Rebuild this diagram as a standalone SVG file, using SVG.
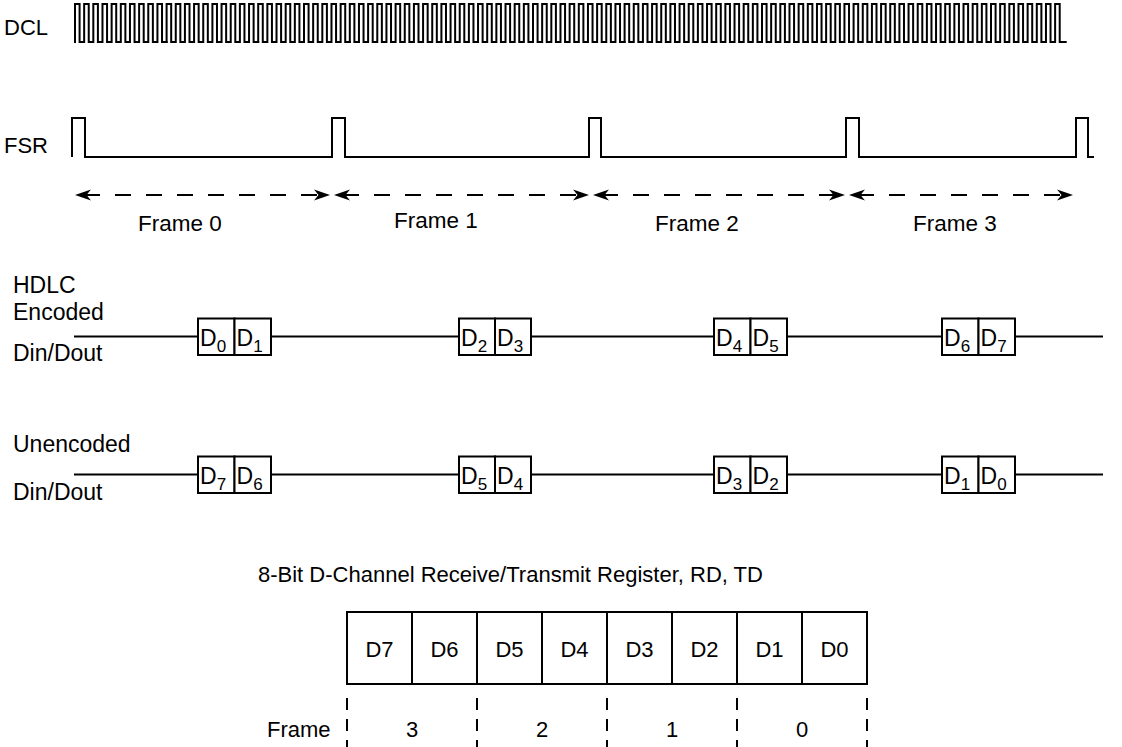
<svg xmlns="http://www.w3.org/2000/svg" xmlns:xlink="http://www.w3.org/1999/xlink" width="1122" height="747" viewBox="0 0 1122 747">
<style>
  text { font-family: "Liberation Sans", Arial, Helvetica, sans-serif; font-size: 22px; fill: #000; }
  .lbl { font-size: 23px; }
  .fr { font-size: 22.5px; }
  .sig { fill: none; stroke: #000; stroke-width: 2; stroke-linejoin: miter; }
  .clk { fill: none; stroke: #000; stroke-width: 2; stroke-linejoin: miter; stroke-linecap: square; }
  .dash { fill: none; stroke: #000; stroke-width: 2; stroke-dasharray: 16 15; stroke-dashoffset: -9; marker-start: url(#ah); marker-end: url(#ah); }
  .box { fill: #fff; stroke: #000; stroke-width: 2; }
  .bx { font-size: 23px; }
  .sub { font-size: 17px; }
  .tick { stroke: #000; stroke-width: 2; stroke-dasharray: 12 9; }
  .mid { text-anchor: middle; }
</style>
<defs>
  <marker id="ah" viewBox="0 0 16 12" refX="16" refY="6" markerWidth="16" markerHeight="12" markerUnits="userSpaceOnUse" orient="auto-start-reverse">
    <path d="M0,0.5 L16,6 L0,11.5 L4.5,6 Z" fill="#000"/>
  </marker>
  <path id="clk10" class="clk" d="M0,42 v-38h4.58v38h4.58 v-38h4.58v38h4.58 v-38h4.58v38h4.58 v-38h4.58v38h4.58 v-38h4.58v38h4.58 v-38h4.58v38h4.58 v-38h4.58v38h4.58 v-38h4.58v38h4.58 v-38h4.58v38h4.58 v-38h4.58v38h4.58"/>
</defs>
<rect width="1122" height="747" fill="#fff"/>

<g id="dcl">
  <text x="4" y="35">DCL</text>
  <use xlink:href="#clk10" href="#clk10" x="75" y="0"/>
  <use xlink:href="#clk10" href="#clk10" x="166.6" y="0"/>
  <use xlink:href="#clk10" href="#clk10" x="258.2" y="0"/>
  <use xlink:href="#clk10" href="#clk10" x="349.8" y="0"/>
  <use xlink:href="#clk10" href="#clk10" x="441.4" y="0"/>
  <use xlink:href="#clk10" href="#clk10" x="533" y="0"/>
  <use xlink:href="#clk10" href="#clk10" x="624.6" y="0"/>
  <use xlink:href="#clk10" href="#clk10" x="716.2" y="0"/>
  <use xlink:href="#clk10" href="#clk10" x="807.8" y="0"/>
  <use xlink:href="#clk10" href="#clk10" x="899.4" y="0"/>
  <path class="clk" d="M991,42 v-38h4.58v38h4.58 v-38h4.58v38h4.58 v-38h4.58v38h4.58 v-38h4.58v38h4.58 v-38h4.58v38h4.58 v-38h4.58v38h4.58 v-38h4.58v38h4.58 v-38h4.58v38h6"/>
</g>

<g id="fsr">
  <text x="4" y="153">FSR</text>
  <path class="sig" d="M72,157 V118 H85 V157 H332 V118 H345 V157 H589 V118 H601 V157 H846 V118 H859 V157 H1076 V118 H1088 V157 H1094"/>
</g>

<g id="connectors">
  <line class="dash" x1="75" y1="195" x2="330" y2="195"/>
  <line class="dash" x1="334" y1="195" x2="589" y2="195"/>
  <line class="dash" x1="593" y1="195" x2="845" y2="195"/>
  <line class="dash" x1="849" y1="195" x2="1073" y2="195"/>
</g>

<g id="frame-labels">
  <text class="mid fr" x="180" y="231">Frame 0</text>
  <text class="mid fr" x="436" y="228">Frame 1</text>
  <text class="mid fr" x="697" y="231">Frame 2</text>
  <text class="mid fr" x="955" y="231">Frame 3</text>
</g>

<g id="hdlc">
  <text class="lbl" x="13" y="293">HDLC</text>
  <text class="lbl" x="13" y="320">Encoded</text>
  <text class="lbl" x="13" y="361">Din/Dout</text>
  <line class="sig" x1="74" y1="336.5" x2="1103" y2="336.5"/>
  <rect class="box" x="198" y="318.5" width="36.5" height="36.5"/>
  <rect class="box" x="234.5" y="318.5" width="36.5" height="36.5"/>
  <rect class="box" x="459" y="318.5" width="36" height="36.5"/>
  <rect class="box" x="495" y="318.5" width="36" height="36.5"/>
  <rect class="box" x="714" y="318.5" width="36.5" height="36.5"/>
  <rect class="box" x="750.5" y="318.5" width="36.5" height="36.5"/>
  <rect class="box" x="942" y="318.5" width="36.5" height="36.5"/>
  <rect class="box" x="978.5" y="318.5" width="36.5" height="36.5"/>
  <text class="bx" x="200" y="346">D<tspan class="sub" dy="6">0</tspan></text>
  <text class="bx" x="236.5" y="346">D<tspan class="sub" dy="6">1</tspan></text>
  <text class="bx" x="461" y="346">D<tspan class="sub" dy="6">2</tspan></text>
  <text class="bx" x="497" y="346">D<tspan class="sub" dy="6">3</tspan></text>
  <text class="bx" x="716" y="346">D<tspan class="sub" dy="6">4</tspan></text>
  <text class="bx" x="752.5" y="346">D<tspan class="sub" dy="6">5</tspan></text>
  <text class="bx" x="944" y="346">D<tspan class="sub" dy="6">6</tspan></text>
  <text class="bx" x="980.5" y="346">D<tspan class="sub" dy="6">7</tspan></text>
</g>

<g id="unencoded">
  <text class="lbl" x="13" y="452">Unencoded</text>
  <text class="lbl" x="13" y="500">Din/Dout</text>
  <line class="sig" x1="74" y1="474.5" x2="1103" y2="474.5"/>
  <rect class="box" x="198" y="456.5" width="36.5" height="36.5"/>
  <rect class="box" x="234.5" y="456.5" width="36.5" height="36.5"/>
  <rect class="box" x="459" y="456.5" width="36" height="36.5"/>
  <rect class="box" x="495" y="456.5" width="36" height="36.5"/>
  <rect class="box" x="714" y="456.5" width="36.5" height="36.5"/>
  <rect class="box" x="750.5" y="456.5" width="36.5" height="36.5"/>
  <rect class="box" x="942" y="456.5" width="36.5" height="36.5"/>
  <rect class="box" x="978.5" y="456.5" width="36.5" height="36.5"/>
  <text class="bx" x="200" y="484">D<tspan class="sub" dy="6">7</tspan></text>
  <text class="bx" x="236.5" y="484">D<tspan class="sub" dy="6">6</tspan></text>
  <text class="bx" x="461" y="484">D<tspan class="sub" dy="6">5</tspan></text>
  <text class="bx" x="497" y="484">D<tspan class="sub" dy="6">4</tspan></text>
  <text class="bx" x="716" y="484">D<tspan class="sub" dy="6">3</tspan></text>
  <text class="bx" x="752.5" y="484">D<tspan class="sub" dy="6">2</tspan></text>
  <text class="bx" x="944" y="484">D<tspan class="sub" dy="6">1</tspan></text>
  <text class="bx" x="980.5" y="484">D<tspan class="sub" dy="6">0</tspan></text>
</g>

<g id="register">
  <text x="258" y="582">8-Bit D-Channel Receive/Transmit Register, RD, TD</text>
  <rect x="347" y="612" width="520" height="72" fill="#fff" stroke="#000" stroke-width="2"/>
  <path d="M412,612V684M477,612V684M542,612V684M607,612V684M672,612V684M737,612V684M802,612V684" stroke="#000" stroke-width="2" fill="none"/>
  <text class="mid" x="379.5" y="657">D7</text>
  <text class="mid" x="444.5" y="657">D6</text>
  <text class="mid" x="509.5" y="657">D5</text>
  <text class="mid" x="574.5" y="657">D4</text>
  <text class="mid" x="639.5" y="657">D3</text>
  <text class="mid" x="704.5" y="657">D2</text>
  <text class="mid" x="769.5" y="657">D1</text>
  <text class="mid" x="834.5" y="657">D0</text>
</g>

<g id="frame-row">
  <text x="267" y="737">Frame</text>
  <line class="tick" x1="347" y1="698" x2="347" y2="747"/>
  <line class="tick" x1="477" y1="698" x2="477" y2="747"/>
  <line class="tick" x1="607" y1="698" x2="607" y2="747"/>
  <line class="tick" x1="737" y1="698" x2="737" y2="747"/>
  <line class="tick" x1="867" y1="698" x2="867" y2="747"/>
  <text class="mid" x="412" y="737">3</text>
  <text class="mid" x="542" y="737">2</text>
  <text class="mid" x="672" y="737">1</text>
  <text class="mid" x="802" y="737">0</text>
</g>
</svg>
